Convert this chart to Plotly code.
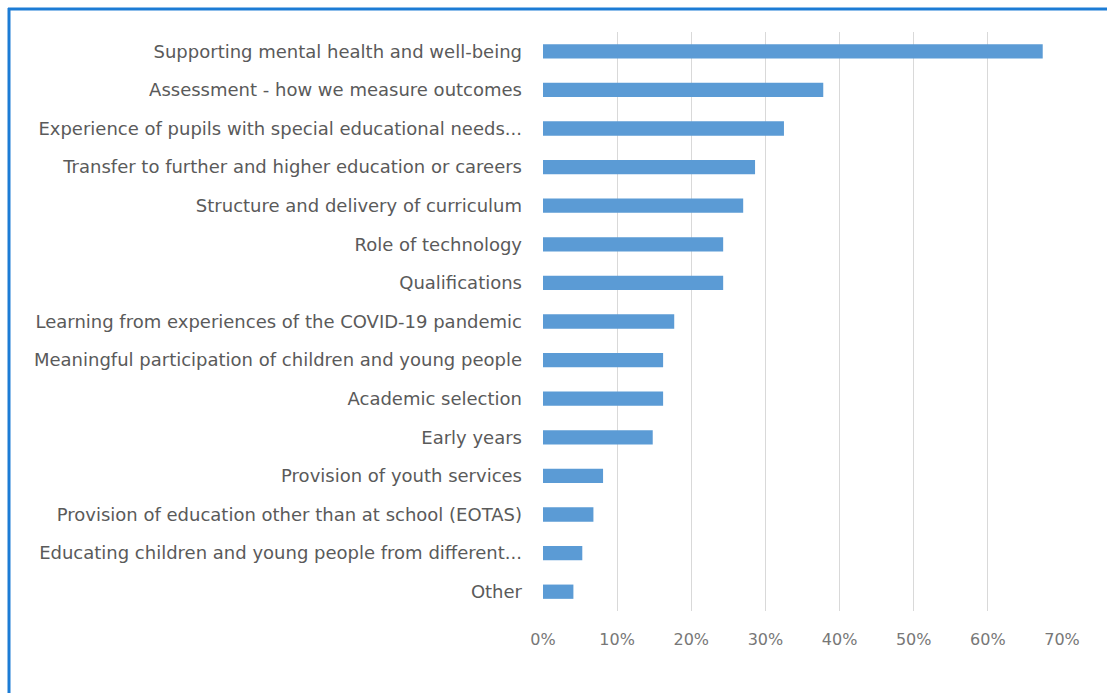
import plotly.graph_objects as go

# Survey themes and share of respondents (%)
themes = [
    "Supporting mental health and well-being",
    "Assessment - how we measure outcomes",
    "Experience of pupils with special educational needs...",
    "Transfer to further and higher education or careers",
    "Structure and delivery of curriculum",
    "Role of technology",
    "Qualifications",
    "Learning from experiences of the COVID-19 pandemic",
    "Meaningful participation of children and young people",
    "Academic selection",
    "Early years",
    "Provision of youth services",
    "Provision of education other than at school (EOTAS)",
    "Educating children and young people from different...",
    "Other",
]
shares = [67.4, 37.8, 32.5, 28.6, 27.0, 24.3, 24.3, 17.7, 16.2, 16.2, 14.8, 8.1, 6.8, 5.3, 4.1]
x_ticks = [0, 10, 20, 30, 40, 50, 60, 70]

W, H = 1107, 693
M_L, M_R, M_T, M_B = 543, 45, 32, 82

fig = go.Figure(
    go.Bar(
        x=shares,
        y=themes,
        orientation="h",
        width=0.37,
        marker=dict(color="#5B9BD5", line=dict(width=0)),
        hoverinfo="x+y",
    )
)

font_family = "DejaVu Sans, Verdana, sans-serif"
fig.update_layout(
    width=W,
    height=H,
    margin=dict(l=M_L, r=M_R, t=M_T, b=M_B, autoexpand=False),
    paper_bgcolor="white",
    plot_bgcolor="white",
    showlegend=False,
    font=dict(family=font_family, color="#595959", size=16),
    xaxis=dict(
        range=[0, 70],
        tickvals=x_ticks,
        ticktext=[f"{t}%" for t in x_ticks],
        showgrid=True,
        gridcolor="#D9D9D9",
        gridwidth=1,
        zeroline=False,
        showline=False,
        ticks="",
        ticklabelstandoff=17,
        tickfont=dict(size=16, color="#777777"),
    ),
    yaxis=dict(
        autorange="reversed",
        showgrid=False,
        zeroline=False,
        showline=False,
        ticks="",
        ticklabelstandoff=20,
        tickfont=dict(size=18, color="#5a5a5a"),
    ),
)

# Frame lines along the top and left edges of the panel
pw = W - M_L - M_R
ph = H - M_T - M_B

def px_to_paper_x(px):
    return (px - M_L) / pw

def px_to_paper_y(py):
    return 1 - (py - M_T) / ph

frame = dict(type="line", xref="paper", yref="paper", line=dict(color="#1C7CD5", width=3))
fig.add_shape(**frame, x0=px_to_paper_x(8), x1=px_to_paper_x(W + 5), y0=px_to_paper_y(9), y1=px_to_paper_y(9))
fig.add_shape(**frame, x0=px_to_paper_x(9), x1=px_to_paper_x(9), y0=px_to_paper_y(8), y1=px_to_paper_y(H + 5))

fig.write_html("out.html")
